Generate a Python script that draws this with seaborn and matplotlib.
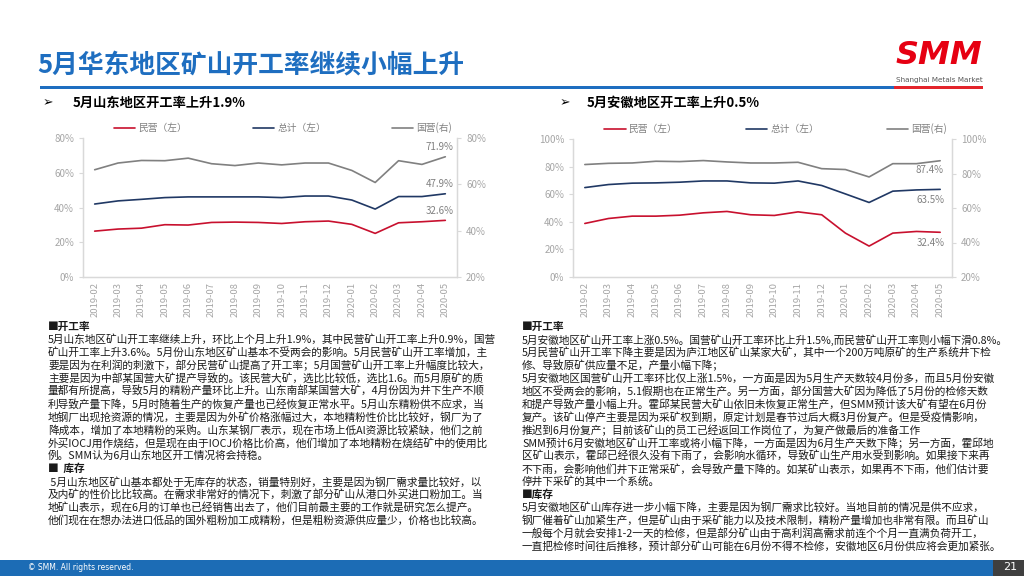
import matplotlib
matplotlib.use("Agg")
import matplotlib.pyplot as plt
import seaborn as sns
import pandas as pd
from matplotlib.patches import Rectangle
from matplotlib.ticker import PercentFormatter

sns.set_style("white")
plt.rcParams['font.family'] = ['Noto Sans CJK SC', 'DejaVu Sans']

# ---- data ----
months = ['2019-02', '2019-03', '2019-04', '2019-05', '2019-06', '2019-07', '2019-08', '2019-09',
          '2019-10', '2019-11', '2019-12', '2020-01', '2020-02', '2020-03', '2020-04', '2020-05']

sd_private = [26.4, 27.6, 28.1, 30.1, 29.9, 31.4, 31.6, 31.4, 30.8, 31.8, 32.2, 30.3, 25.1, 31.2, 31.8, 32.6]
sd_total = [42.0, 43.8, 44.7, 45.7, 46.1, 46.1, 46.1, 46.1, 45.7, 46.6, 46.6, 44.3, 39.1, 46.3, 46.3, 47.9]
sd_state = [66.3, 69.2, 70.3, 70.2, 71.3, 68.9, 68.1, 69.2, 68.4, 69.2, 69.2, 66.0, 60.8, 70.2, 68.6, 71.9]

ah_private = [38.8, 42.4, 44.1, 44.1, 44.8, 46.5, 47.5, 45.1, 44.6, 47.2, 45.1, 31.8, 22.4, 31.8, 33.0, 32.4]
ah_total = [64.8, 67.0, 68.0, 68.2, 68.7, 69.6, 69.6, 68.2, 68.0, 69.6, 66.3, 60.2, 54.0, 62.2, 63.1, 63.5]
ah_state = [85.2, 85.9, 86.1, 87.1, 86.9, 87.5, 86.7, 86.1, 86.1, 86.5, 82.8, 82.3, 78.0, 85.7, 85.7, 87.4]

series_names = ['民营（左）', '总计（左）', '国营(右)']

title = '5月华东地区矿山开工率继续小幅上升'
sub_left = '5月山东地区开工率上升1.9%'
sub_right = '5月安徽地区开工率上升0.5%'

left_text = [
    ('■开工率', True),
    ('5月山东地区矿山开工率继续上升，环比上个月上升1.9%，其中民营矿山开工率上升0.9%，国营', False),
    ('矿山开工率上升3.6%。5月份山东地区矿山基本不受两会的影响。5月民营矿山开工率增加，主', False),
    ('要是因为在利润的刺激下，部分民营矿山提高了开工率；5月国营矿山开工率上升幅度比较大，', False),
    ('主要是因为中部某国营大矿提产导致的。该民营大矿，选比比较低，选比1.6。而5月原矿的质', False),
    ('量都有所提高，导致5月的精粉产量环比上升。山东南部某国营大矿，4月份因为井下生产不顺', False),
    ('利导致产量下降，5月时随着生产的恢复产量也已经恢复正常水平。5月山东精粉供不应求，当', False),
    ('地钢厂出现抢资源的情况，主要是因为外矿价格涨幅过大，本地精粉性价比比较好，钢厂为了', False),
    ('降成本，增加了本地精粉的采购。山东某钢厂表示，现在市场上低Al资源比较紧缺，他们之前', False),
    ('外买IOCJ用作烧结，但是现在由于IOCJ价格比价高，他们增加了本地精粉在烧结矿中的使用比', False),
    ('例。SMM认为6月山东地区开工情况将会持稳。', False),
    ('■  库存', True),
    (' 5月山东地区矿山基本都处于无库存的状态，销量特别好，主要是因为钢厂需求量比较好，以', False),
    ('及内矿的性价比比较高。在需求非常好的情况下，刺激了部分矿山从港口外买进口粉加工。当', False),
    ('地矿山表示，现在6月的订单也已经销售出去了，他们目前最主要的工作就是研究怎么提产。', False),
    ('他们现在在想办法进口低品的国外粗粉加工成精粉，但是粗粉资源供应量少，价格也比较高。', False),
]

right_text = [
    ('■开工率', True),
    ('5月安徽地区矿山开工率上涨0.5%。国营矿山开工率环比上升1.5%,而民营矿山开工率则小幅下滑0.8%。', False),
    ('5月民营矿山开工率下降主要是因为庐江地区矿山某家大矿，其中一个200万吨原矿的生产系统井下检', False),
    ('修、导致原矿供应量不足，产量小幅下降；', False),
    ('5月安徽地区国营矿山开工率环比仅上涨1.5%，一方面是因为5月生产天数较4月份多，而且5月份安徽', False),
    ('地区不受两会的影响，5.1假期也在正常生产。另一方面，部分国营大矿因为降低了5月份的检修天数', False),
    ('和提产导致产量小幅上升。霍邱某民营大矿山依旧未恢复正常生产，但SMM预计该大矿有望在6月份', False),
    ('复产。该矿山停产主要是因为采矿权到期，原定计划是春节过后大概3月份复产。但是受疫情影响，', False),
    ('推迟到6月份复产；目前该矿山的员工已经返回工作岗位了，为复产做最后的准备工作', False),
    ('SMM预计6月安徽地区矿山开工率或将小幅下降，一方面是因为6月生产天数下降；另一方面，霍邱地', False),
    ('区矿山表示，霍邱已经很久没有下雨了，会影响水循环，导致矿山生产用水受到影响。如果接下来再', False),
    ('不下雨，会影响他们井下正常采矿，会导致产量下降的。如某矿山表示，如果再不下雨，他们估计要', False),
    ('停井下采矿的其中一个系统。', False),
    ('■库存', True),
    ('5月安徽地区矿山库存进一步小幅下降，主要是因为钢厂需求比较好。当地目前的情况是供不应求，', False),
    ('钢厂催着矿山加紧生产，但是矿山由于采矿能力以及技术限制，精粉产量增加也非常有限。而且矿山', False),
    ('一般每个月就会安排1-2一天的检修，但是部分矿山由于高利润高需求前连个个月一直满负荷开工，', False),
    ('一直把检修时间往后推移，预计部分矿山可能在6月份不得不检修，安徽地区6月份供应将会更加紧张。', False),
]

RED = '#C8102E'
NAVY = '#203864'
GREY = '#808080'
TICK = '#A6A6A6'
SPINE = '#D9D9D9'

W, H = 1024, 576


def fx(x):
    return x / W


def fy(y):
    return 1 - y / H


fig = plt.figure(figsize=(10.24, 5.76), dpi=100)
fig.patch.set_facecolor('white')


def draw_chart(rect, private, total, state, left_lim, left_ticks, right_lim, right_ticks, label_offsets):
    ax = fig.add_axes(rect)
    ax2 = ax.twinx()
    df = pd.DataFrame({'month': months, 'private': private, 'total': total, 'state': state})
    sns.lineplot(data=df, x='month', y='private', ax=ax, color=RED, linewidth=1.2, label=series_names[0], legend=False)
    sns.lineplot(data=df, x='month', y='total', ax=ax, color=NAVY, linewidth=1.2, label=series_names[1], legend=False)
    sns.lineplot(data=df, x='month', y='state', ax=ax2, color=GREY, linewidth=1.2, label=series_names[2], legend=False)

    for a, lim, ticks in ((ax, left_lim, left_ticks), (ax2, right_lim, right_ticks)):
        a.set_ylim(*lim)
        a.set_yticks(ticks)
        a.yaxis.set_major_formatter(PercentFormatter(decimals=0))
        a.set_xlim(-0.5, len(months) - 0.5)
        a.set_xlabel('')
        a.set_ylabel('')
        a.tick_params(axis='y', labelsize=7, labelcolor=TICK, color=SPINE, length=3, width=0.8)
        a.spines['top'].set_visible(False)
        for s in ('left', 'right', 'bottom'):
            a.spines[s].set_color(SPINE)
            a.spines[s].set_linewidth(0.9)
        a.grid(False)
    ax.tick_params(axis='x', labelsize=6.8, labelcolor=TICK, rotation=90, length=0)
    ax2.tick_params(axis='x', length=0)

    # end-of-line value labels
    last = len(months) - 1
    for a, vals, off in zip((ax, ax, ax2), (private, total, state), label_offsets):
        a.annotate(f'{vals[-1]:.1f}%', xy=(last, vals[-1]), xytext=off, textcoords='offset points',
                   ha='center', va='center', fontsize=7, color=GREY)

    handles = ax.get_lines()[:2] + ax2.get_lines()[:1]
    leg = ax.legend(handles, series_names, ncol=3, loc='lower left', bbox_to_anchor=(0.07, 1.0, 0.93, 0.1),
                    mode='expand', frameon=False, fontsize=7, handlelength=2.2, handletextpad=0.3,
                    borderaxespad=0.1)
    for t in leg.get_texts():
        t.set_color(GREY)
    return ax, ax2


draw_chart([fx(83), fy(277), fx(457) - fx(83), fy(138) - fy(277)],
           sd_private, sd_total, sd_state,
           (0, 80), [0, 20, 40, 60, 80], (20, 80), [20, 40, 60, 80],
           [(-4, 7), (-4, 7), (-4, 7)])

draw_chart([fx(573), fy(277), fx(952) - fx(573), fy(139) - fy(277)],
           ah_private, ah_total, ah_state,
           (0, 100), [0, 20, 40, 60, 80, 100], (20, 100), [20, 40, 60, 80, 100],
           [(-7, -7.5), (-7, -7.5), (-8, -7)])

# ---- title, underline and logo ----
fig.text(fx(37), fy(66), title, fontsize=18.5, fontweight='bold', color='#1E6EC0', va='center', ha='left')
fig.add_artist(Rectangle((fx(40), fy(89)), fx(894) - fx(40), 3.5 / H, transform=fig.transFigure,
                         facecolor='#1E6EC0', edgecolor='none'))
fig.add_artist(Rectangle((fx(894), fy(89)), fx(983) - fx(894), 3.5 / H, transform=fig.transFigure,
                         facecolor='#E3242B', edgecolor='none'))
fig.text(fx(939), fy(56), 'SMM', fontsize=23, fontweight='heavy', style='italic', color='#E60012',
         ha='center', va='center', family='DejaVu Sans')
fig.text(fx(939), fy(80), 'Shanghai Metals Market', fontsize=5.2, color='#595959', ha='center', va='center',
         family='DejaVu Sans')

# ---- sub headings ----
for ax_x, tx_x, txt in ((43, 73, sub_left), (560, 587, sub_right)):
    fig.text(fx(ax_x), fy(103), '➢', fontsize=9, color='black', va='center', family=['DejaVu Sans'])
    fig.text(fx(tx_x), fy(103), txt, fontsize=9.5, fontweight='bold', color='black', va='center')

# ---- body text ----
line_h = 12.9
for x0, lines in ((48, left_text), (522, right_text)):
    for i, (txt, bold) in enumerate(lines):
        fig.text(fx(x0), fy(327 + i * line_h), txt, fontsize=7.7, color='#1a1a1a', va='center', ha='left',
                 fontweight='bold' if bold else 'normal')

# ---- footer ----
fig.add_artist(Rectangle((0, 0), fx(993), 16 / H, transform=fig.transFigure, facecolor='#1C6CB5',
                         edgecolor='none'))
fig.add_artist(Rectangle((fx(993), 0), fx(1024) - fx(993), 16 / H, transform=fig.transFigure,
                         facecolor='#3F3F3F', edgecolor='none'))
fig.text(fx(28), fy(568), '© SMM. All rights reserved.', fontsize=5.5, color='white', va='center',
         family='DejaVu Sans')
fig.text(fx(1010), fy(567), '21', fontsize=8, color='white', va='center', ha='center', family='DejaVu Sans')

fig.savefig('out.png', dpi=100)
